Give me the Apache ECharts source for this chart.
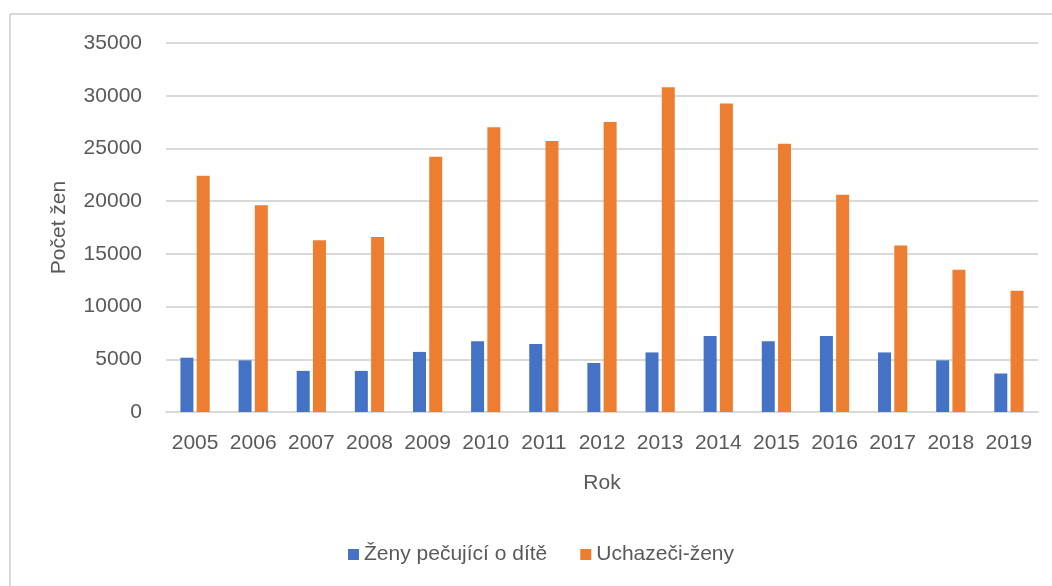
<!DOCTYPE html>
<html>
<head>
<meta charset="utf-8">
<script src="https://cdn.jsdelivr.net/npm/echarts@6/dist/echarts.min.js"></script>
<style>
  html, body { margin: 0; padding: 0; background: #fff; }
  #chart { width: 1052px; height: 586px; }
</style>
</head>
<body>
<div id="chart"></div>
<script>
const years = ['2005', '2006', '2007', '2008', '2009', '2010', '2011', '2012', '2013', '2014', '2015', '2016', '2017', '2018', '2019']
const zenyPecujici = [5150, 4900, 3900, 3900, 5700, 6700, 6450, 4650, 5650, 7200, 6700, 7200, 5650, 4900, 3650]
const uchazeciZeny = [22400, 19600, 16300, 16600, 24200, 27000, 25700, 27500, 30800, 29250, 25450, 20600, 15800, 13500, 11500]
const yTicks = { min: 0, max: 35000, interval: 5000 }

const textColor = '#595959'
const lineColor = '#d9d9d9'
const fontFamily = '"Liberation Sans", "DejaVu Sans", sans-serif'

const chart = echarts.init(document.getElementById('chart'))

const option = {
    animation: false,
    textStyle: { fontFamily: fontFamily },
    color: ['#4472C4', '#ED7D31'],
    // frame of the chart area (top and left edges visible)
    graphic: [
        { type: 'line', shape: { x1: 10, y1: 14, x2: 1052, y2: 14 }, style: { stroke: lineColor, lineWidth: 2 } },
        { type: 'line', shape: { x1: 10, y1: 14, x2: 10, y2: 586 }, style: { stroke: lineColor, lineWidth: 2 } }
    ],
    grid: {
        left: 166,
        right: 14,
        top: 43,
        bottom: 174
    },
    legend: {
        left: 343,
        top: 539,
        itemWidth: 11,
        itemHeight: 11,
        itemGap: 33,
        icon: 'rect',
        textStyle: { color: textColor, fontSize: 21, fontFamily: fontFamily },
        data: ['Ženy pečující o dítě', 'Uchazeči-ženy']
    },
    xAxis: {
        type: 'category',
        data: years,
        name: 'Rok',
        nameLocation: 'middle',
        nameGap: 61,
        nameTextStyle: { color: textColor, fontSize: 21 },
        axisLine: { lineStyle: { color: lineColor, width: 2 } },
        axisTick: { show: false },
        axisLabel: { color: textColor, fontSize: 21, margin: 21, interval: 0 }
    },
    yAxis: {
        type: 'value',
        min: yTicks.min,
        max: yTicks.max,
        interval: yTicks.interval,
        name: 'Počet žen',
        nameLocation: 'middle',
        nameGap: 96,
        nameTextStyle: { color: textColor, fontSize: 21 },
        axisLine: { show: false },
        axisTick: { show: false },
        axisLabel: { color: textColor, fontSize: 21, margin: 24, formatter: v => String(v) },
        splitLine: { lineStyle: { color: lineColor, width: 2 } }
    },
    series: [
        {
            name: 'Ženy pečující o dítě',
            type: 'bar',
            barWidth: 13,
            barGap: '25%',
            data: zenyPecujici
        },
        {
            name: 'Uchazeči-ženy',
            type: 'bar',
            barWidth: 13,
            barGap: '25%',
            data: uchazeciZeny
        }
    ]
}

chart.setOption(option)
</script>
</body>
</html>
